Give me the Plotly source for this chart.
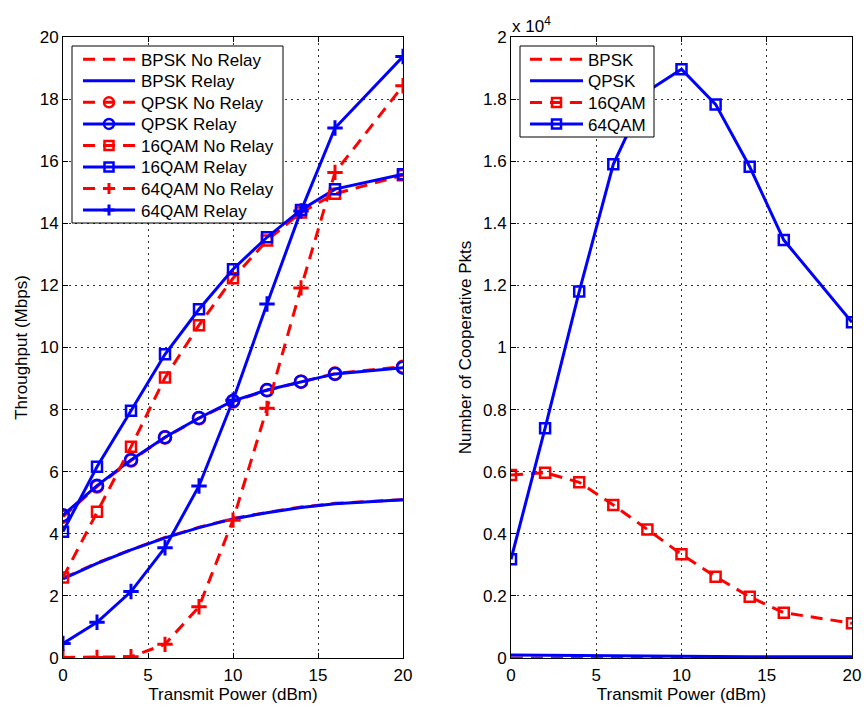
import plotly.graph_objects as go

# ---------------- data ----------------
power = [0, 2, 4, 6, 8, 10, 12, 14, 16, 20]

# Left: throughput (Mbps)
bpsk_norelay = [2.57, 3.06, 3.49, 3.88, 4.21, 4.49, 4.69, 4.86, 4.98, 5.10]
bpsk_relay = [2.55, 3.05, 3.48, 3.87, 4.20, 4.48, 4.68, 4.85, 4.97, 5.10]
qpsk_norelay = [4.55, 5.52, 6.36, 7.10, 7.72, 8.26, 8.62, 8.90, 9.16, 9.38]
qpsk_relay = [4.60, 5.55, 6.38, 7.11, 7.73, 8.28, 8.63, 8.90, 9.15, 9.35]
qam16_norelay = [2.59, 4.71, 6.80, 9.03, 10.72, 12.23, 13.45, 14.35, 14.95, 15.55]
qam16_relay = [4.07, 6.16, 7.96, 9.78, 11.23, 12.52, 13.55, 14.43, 15.10, 15.58]
qam64_norelay = [0.02, 0.02, 0.04, 0.44, 1.65, 4.44, 8.04, 11.92, 15.64, 18.43]
qam64_relay = [0.47, 1.15, 2.14, 3.55, 5.54, 8.30, 11.40, 14.40, 17.07, 19.37]

# Right: number of cooperative packets
coop_bpsk = [0, 0, 0, 0, 0, 0, 0, 0, 0, 0]
coop_qpsk = [95, 85, 75, 65, 55, 45, 42, 40, 40, 40]
coop_16qam = [5890, 5970, 5660, 4930, 4140, 3340, 2620, 1970, 1460, 1120]
coop_64qam = [3180, 7400, 11800, 15900, 18250, 18960, 17830, 15820, 13460, 10810]

x_ticks = [0, 5, 10, 15, 20]
left_y_ticks = [0, 2, 4, 6, 8, 10, 12, 14, 16, 18, 20]
right_y_ticks = [0, 2000, 4000, 6000, 8000, 10000, 12000, 14000, 16000, 18000, 20000]
right_y_ticktext = ["0", "0.2", "0.4", "0.6", "0.8", "1", "1.2", "1.4", "1.6", "1.8", "2"]

left_names = ["BPSK No Relay", "BPSK Relay", "QPSK No Relay", "QPSK Relay",
              "16QAM No Relay", "16QAM Relay", "64QAM No Relay", "64QAM Relay"]
right_names = ["BPSK", "QPSK", "16QAM", "64QAM"]

RED = "#ff0000"
BLUE = "#0000ff"
DASH = "12px,8px"
LW = 3
FS = 17

# style per series (colour, dashed?, marker kind)
left_styles = [(RED, True, None), (BLUE, False, None), (RED, True, "circle"), (BLUE, False, "circle"),
               (RED, True, "square"), (BLUE, False, "square"), (RED, True, "cross"), (BLUE, False, "cross")]
right_styles = [(RED, True, None), (BLUE, False, None), (RED, True, "square"), (BLUE, False, "square")]

SYM = {None: None, "circle": ("circle-open", 12), "square": ("square-open", 10),
       "cross": ("cross-thin-open", 11)}

W, H = 866, 708
ML, MR, MT, MB = 63, 14, 37, 50
PW, PH = W - ML - MR, H - MT - MB

fig = go.Figure()


def add(x, y, name, style, xa, ya):
    color, dashed, kind = style
    sym = SYM[kind]
    mode = "lines" if sym is None else "lines+markers"
    tr = dict(x=x, y=y, name=name, mode=mode, xaxis=xa, yaxis=ya, showlegend=False,
              line=dict(color=color, width=LW, dash=DASH if dashed else "solid"))
    if sym is not None:
        tr["marker"] = dict(symbol=sym[0], size=sym[1], color=color,
                            line=dict(color=color, width=3 if kind == "cross" else 2.5))
    fig.add_trace(go.Scatter(**tr))


left_series = [bpsk_norelay, bpsk_relay, qpsk_norelay, qpsk_relay,
               qam16_norelay, qam16_relay, qam64_norelay, qam64_relay]
for nm, st, ys in zip(left_names, left_styles, left_series):
    add(power, ys, nm, st, "x", "y")

right_series = [coop_bpsk, coop_qpsk, coop_16qam, coop_64qam]
for nm, st, ys in zip(right_names, right_styles, right_series):
    add(power, ys, nm, st, "x2", "y2")

# ---------------- custom legends (pixel layout) ----------------
shapes = []
annotations = []


def px(x):
    return (x - ML) / PW


def py(y):
    return (H - MB - y) / PH


def legend(box, row0, rowstep, line_x, text_x, names, styles):
    x0, y0, x1, y1 = box
    shapes.append(dict(type="rect", xref="paper", yref="paper", layer="above",
                       x0=px(x0), x1=px(x1), y0=py(y0), y1=py(y1),
                       fillcolor="white", line=dict(color="black", width=1)))
    lx0, lx1 = line_x
    cx = (lx0 + lx1) / 2
    for i, (nm, (color, dashed, kind)) in enumerate(zip(names, styles)):
        yc = row0 + i * rowstep
        shapes.append(dict(type="line", xref="paper", yref="paper", layer="above",
                           x0=px(lx0), x1=px(lx1), y0=py(yc), y1=py(yc),
                           line=dict(color=color, width=LW, dash=DASH if dashed else "solid")))
        if kind == "circle":
            r = 5
            shapes.append(dict(type="circle", xref="paper", yref="paper", layer="above",
                               x0=px(cx - r), x1=px(cx + r), y0=py(yc - r), y1=py(yc + r),
                               line=dict(color=color, width=2.5)))
        elif kind == "square":
            r = 4.5
            shapes.append(dict(type="rect", xref="paper", yref="paper", layer="above",
                               x0=px(cx - r), x1=px(cx + r), y0=py(yc - r), y1=py(yc + r),
                               line=dict(color=color, width=2.5)))
        elif kind == "cross":
            r = 5.5
            shapes.append(dict(type="line", xref="paper", yref="paper", layer="above",
                               x0=px(cx), x1=px(cx), y0=py(yc - r), y1=py(yc + r),
                               line=dict(color=color, width=3)))
            shapes.append(dict(type="line", xref="paper", yref="paper", layer="above",
                               x0=px(cx - r), x1=px(cx + r), y0=py(yc), y1=py(yc),
                               line=dict(color=color, width=3)))
        annotations.append(dict(text=nm, xref="paper", yref="paper", x=px(text_x), y=py(yc + 1),
                                xanchor="left", yanchor="middle", showarrow=False,
                                font=dict(size=FS, color="black")))


legend((72, 46, 283, 223), 59.3, 21.53, (83, 135), 139, left_names, left_styles)
legend((520, 46, 654, 137), 59.3, 21.57, (530, 583), 586, right_names, right_styles)

annotations.append(dict(text="x 10<sup>4</sup>", xref="paper", yref="paper",
                        x=px(510), y=py(38), xanchor="left", yanchor="bottom",
                        showarrow=False, font=dict(size=17, color="black")))

axis_common = dict(
    showline=True, linecolor="black", linewidth=1, mirror="ticks",
    ticks="inside", ticklen=5, tickcolor="black", tickwidth=1,
    showgrid=True, gridcolor="#333333", griddash="1.5px,4.5px", gridwidth=1,
    zeroline=False, tickfont=dict(size=FS, color="black"), automargin=False,
)

left_dom = [0, 340 / PW]
right_dom = [(511 - ML) / PW, 1]

fig.update_layout(
    width=W, height=H,
    margin=dict(l=ML, r=MR, t=MT, b=MB, autoexpand=False),
    paper_bgcolor="white", plot_bgcolor="white",
    font=dict(family="Liberation Sans, Arial, sans-serif", size=FS, color="black"),
    showlegend=False,
    xaxis=dict(domain=left_dom, range=[0, 20], tickvals=x_ticks, anchor="y",
               ticklabelstandoff=2,
               title=dict(text="Transmit Power (dBm)", standoff=2, font=dict(size=FS)),
               **axis_common),
    yaxis=dict(domain=[0, 1], range=[0, 20], tickvals=left_y_ticks, anchor="x",
               title=dict(text="Throughput (Mbps)", standoff=7, font=dict(size=FS)),
               **axis_common),
    xaxis2=dict(domain=right_dom, range=[0, 20], tickvals=x_ticks, anchor="y2",
                ticklabelstandoff=2,
                title=dict(text="Transmit Power (dBm)", standoff=2, font=dict(size=FS)),
                **axis_common),
    yaxis2=dict(domain=[0, 1], range=[0, 20000], tickvals=right_y_ticks,
                ticktext=right_y_ticktext, anchor="x2",
                title=dict(text="Number of Cooperative Pkts", standoff=7, font=dict(size=FS)),
                **axis_common),
    shapes=shapes,
    annotations=annotations,
)

fig.write_html("out.html")
